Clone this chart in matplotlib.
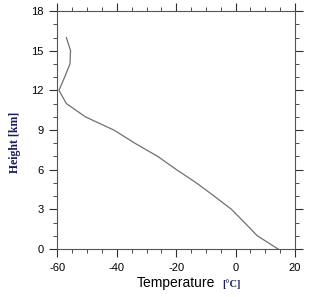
import matplotlib
matplotlib.use('Agg')
import matplotlib.pyplot as plt
from matplotlib.ticker import MultipleLocator

plt.rcParams['axes.unicode_minus'] = False

# temperature profile (deg C) at each height (km)
height = [0, 1, 2, 3, 4, 5, 6, 7, 8, 9, 10, 11, 12, 13, 14, 15, 16]
temperature = [14.3, 7.3, 3.0, -1.4, -7.2, -13.2, -19.9, -26.2, -33.9, -41.0,
               -50.6, -57.0, -59.5, -57.6, -55.8, -55.6, -57.0]

xticks = [-60, -40, -20, 0, 20]
yticks = [0, 3, 6, 9, 12, 15, 18]

fig = plt.figure(figsize=(3.15, 2.97), dpi=100)
ax = fig.add_axes([0.1825, 0.1616, 0.754, 0.801])

ax.plot(temperature, height, color='#707070', lw=0.9)

ax.set_xlim(-60, 20)
ax.set_ylim(0, 18)
ax.set_xticks(xticks)
ax.set_yticks(yticks)
ax.xaxis.set_minor_locator(MultipleLocator(5))
ax.yaxis.set_minor_locator(MultipleLocator(1))
ax.tick_params(which='both', direction='out', top=True, right=True,
               labeltop=False, labelright=False, colors='#303030')
ax.tick_params(which='major', length=6, width=0.8, labelsize=8, pad=4)
ax.tick_params(which='minor', length=3, width=0.6)
for lab in ax.get_xticklabels() + ax.get_yticklabels():
    lab.set_family('Liberation Sans')
    lab.set_color('black')
for s in ax.spines.values():
    s.set_color('#555555')
    s.set_linewidth(0.8)

fig.text(0.435, 0.047, 'Temperature', ha='left', va='center', fontsize=10,
         family='Liberation Sans')
fig.text(0.705, 0.043, '[°C]', ha='left', va='center', fontsize=7.5,
         family='Liberation Serif', color='#1a1a5a', weight='bold')
fig.text(0.048, 0.52, 'Height [km]', rotation=90, ha='center', va='center',
         fontsize=8.5, family='Liberation Serif', color='#1a1a5a', weight='bold')

fig.savefig('out.png', dpi=100)
